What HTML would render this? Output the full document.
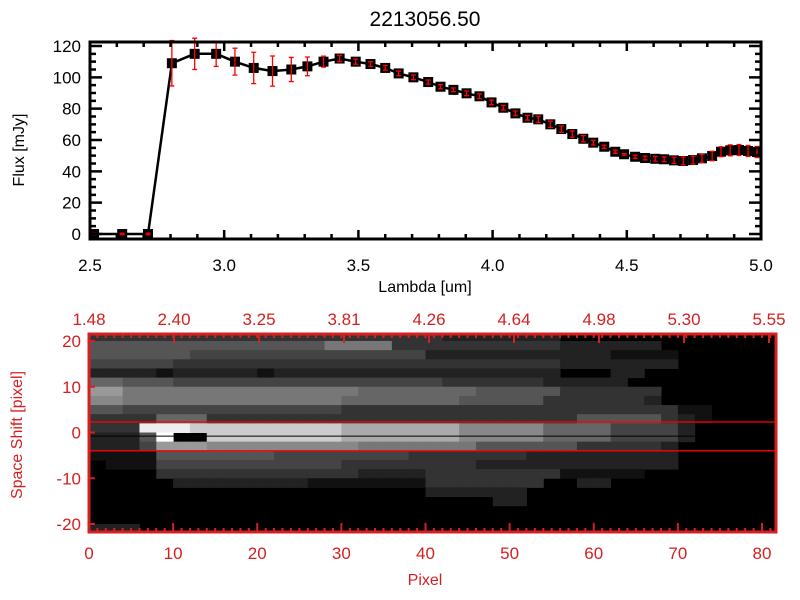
<!DOCTYPE html>
<html><head><meta charset="utf-8"><style>
html,body{margin:0;padding:0;background:#fff;width:800px;height:600px;overflow:hidden}
svg{display:block;font-family:"Liberation Sans",sans-serif}
</style></head><body>
<svg id="svg" width="800" height="600" viewBox="0 0 800 600" xmlns="http://www.w3.org/2000/svg">
<rect width="800" height="600" fill="#fff"/>
<text x="425" y="26" font-size="21" text-anchor="middle" fill="#000">2213056.50</text>
<g id="top"></g>
<g id="bot"></g>
<text x="425" y="292" font-size="16" text-anchor="middle">Lambda [um]</text>
<text transform="translate(24,150) rotate(-90)" font-size="16" text-anchor="middle">Flux [mJy]</text>
<text x="425" y="585" font-size="16" fill="#d42020" text-anchor="middle">Pixel</text>
<text transform="translate(22,435) rotate(-90)" font-size="16" fill="#d42020" text-anchor="middle">Space Shift [pixel]</text>
</svg>
<script>
const lambda=[2.515,2.62,2.716,2.805,2.89,2.97,3.04,3.11,3.18,3.25,3.31,3.37,3.43,3.49,3.545,3.60,3.65,3.705,3.76,3.806,3.854,3.903,3.951,3.996,4.04,4.085,4.13,4.17,4.215,4.256,4.297,4.338,4.375,4.416,4.457,4.49,4.531,4.568,4.606,4.639,4.676,4.71,4.747,4.78,4.818,4.851,4.885,4.918,4.952,4.985];
const flux=[0,0,0,109,115,115,110,106,104,105,107,110,112,110,108.5,106,102.5,100,97,94,92,89.8,87.9,84,80.6,77,74.2,73.2,70,67,63.8,60.8,58.3,55.7,52.5,50.9,49.3,48.5,48,47.7,47,46.6,47.2,48.3,49.8,52.5,53.4,53.6,53,52.3];
const fluxErr=[0.5,0.5,0.5,14.5,10,8,8.6,10,9.6,7.7,6,3.5,2,1.6,1.5,1.5,1.5,1.5,1.3,1.3,1.2,1.5,1.5,1.5,1.5,1.5,1.5,2,2,2,2,2,1.5,1,1,0.5,1,1.2,1.5,1.5,2,2.5,2.5,2.5,3,3.2,3.5,3.5,3.5,3.5];
const xTicks=["2.5","3.0","3.5","4.0","4.5","5.0"];
const yTicks=[0,20,40,60,80,100,120];
const pixTicks=[0,10,20,30,40,50,60,70,80];
const shiftTicks=[20,10,0,-10,-20];
const topLabels=["1.48","2.40","3.25","3.81","4.26","4.64","4.98","5.30","5.55"];
const imgRows=[
"33333333333333333333322222220000000000000",
"55555555555555777733333333332222220000000",
"55555544444444444444222222222221111000000",
"44444333333333333333333333332222222000000",
"22221222221222222222222222220002200000000",
"66555444444444444444433333322222000000000",
"99777777777777776666666555553333330000000",
"88777777777777766666665555533333320000000",
"55444444444444433333333333333333333110000",
"33336663333333333333333333333555553210000",
"333eeecccccccccaaaaaaa8888866664444200000",
"2225f00ccccccccaaaaaaa8888866664444200000",
"22249998888888887777777555555333332000000",
"11115555555444444443333333222222222000000",
"01114444444444433333333222222222222000000",
"00003333333333332222333333331111100000000",
"00000222222221111111333333300220000000000",
"00000000000000000000222222000000000000000",
"00000000000000000000000022000000000000000",
"00000000000000000000000000000000000000000",
"00000000000000000000000000000000000000000",
"22200000000000000000000000000000000000000",
"00000000000000000000000000000000000000000"];
const refLines=[2.3,-4];
const centerLine=-0.8;

const NS="http://www.w3.org/2000/svg";
function mk(tag,attrs,parent){const e=document.createElementNS(NS,tag);for(const k in attrs)e.setAttribute(k,attrs[k]);parent.appendChild(e);return e;}
const topG=document.getElementById('top'),botG=document.getElementById('bot');
const X0=90,X1=761,Y0=239,Y1=42;
const xs=v=>X0+(v-2.5)/2.5*(X1-X0);
const ys=v=>234-v*(234-46)/120;
let d="";
for(let i=0;i<lambda.length;i++){d+=(i?"L":"M")+xs(lambda[i]).toFixed(1)+","+ys(flux[i]).toFixed(1);}
const ln=mk('path',{d:d,fill:"none",stroke:"#000","stroke-width":2.5},topG);


for(let i=0;i<lambda.length;i++){
  const x=xs(lambda[i]),y=ys(flux[i]);
  const m=mk('rect',{x:x-5,y:y-5,width:10,height:10,fill:"#000"},topG);
  
  
}
for(let i=0;i<lambda.length;i++){
  const x=xs(lambda[i]),y1=ys(flux[i]+fluxErr[i]),y2=ys(flux[i]-fluxErr[i]);
  const g=mk('path',{d:`M${x},${y1}V${y2}M${x-2.5},${y1}H${x+2.5}M${x-2.5},${y2}H${x+2.5}`,stroke:"#f00","stroke-width":1.3,fill:"none"},topG);
  
  
}
mk('rect',{x:X0,y:Y1,width:X1-X0,height:Y0-Y1,fill:"none",stroke:"#000","stroke-width":3},topG);
let td="";
for(let k=0;k<=25;k++){const x=xs(2.5+k*0.1),L=(k%5==0)?9:5;td+=`M${x},${Y0}v${-L}M${x},${Y1}v${L}`;}
for(let k=0;k<=24;k++){const y=ys(k*5),L=(k%4==0)?12:6;td+=`M${X0},${y}h${L}M${X1},${y}h${-L}`;}
mk('path',{d:td,stroke:"#000","stroke-width":2.5,fill:"none"},topG);
xTicks.forEach(t=>{const e=mk('text',{x:xs(parseFloat(t)),y:271,"font-size":17,"text-anchor":"middle"},topG);e.textContent=t;

});
yTicks.forEach(t=>{const e=mk('text',{x:81,y:ys(t)+6,"font-size":17,"text-anchor":"end"},topG);e.textContent=t;

});
const BX0=89,BX1=776,BY0=532,BY1=334,RED="#d42020";
const px=p=>89+p*(762-89)/80;
const sy=v=>432.5-v*4.575;
mk('rect',{x:BX0,y:BY1,width:BX1-BX0,height:BY0-BY1,fill:"#000"},botG);
const clip=mk('clipPath',{id:"cl"},mk('defs',{},botG));
mk('rect',{x:BX0,y:BY1,width:BX1-BX0,height:BY0-BY1},clip);
const ig=mk('g',{"clip-path":"url(#cl)"},botG);


imgRows.forEach((row,k)=>{
  for(let c=0;c<row.length;c++){
    const v=parseInt(row[c],16);if(!v)continue;
    const g=Math.round(v/15*255);
    const r=mk('rect',{x:px(2*c),y:sy(22-2*k),width:px(2*c+2)-px(2*c)+0.5,height:sy(20-2*k)-sy(22-2*k)+0.5,fill:`rgb(${g},${g},${g})`},ig);
    
    
  }
});
refLines.forEach(v=>{const l=mk('line',{x1:BX0,x2:BX1,y1:sy(v),y2:sy(v),stroke:"#f00","stroke-width":1.3},botG);

});
const cl=mk('line',{x1:BX0,x2:BX1,y1:sy(centerLine),y2:sy(centerLine),stroke:"#000","stroke-width":1},botG);


mk('rect',{x:BX0,y:BY1,width:BX1-BX0,height:BY0-BY1,fill:"none",stroke:RED,"stroke-width":3},botG);
let bd="";
for(let p=0;p<=81;p++){const x=px(p);bd+=`M${x},${BY0}v-4M${x},${BY1}v4`;}
pixTicks.forEach(p=>{const x=px(p);bd+=`M${x},${BY0}v-9`;});
for(let j=0;j<9;j++){const x=89+j*85;bd+=`M${x},${BY1}v9`;}
shiftTicks.forEach(v=>{bd+=`M${BX0},${sy(v)}h6`;});
mk('path',{d:bd,stroke:RED,"stroke-width":2,fill:"none"},botG);
pixTicks.forEach(p=>{const e=mk('text',{x:px(p),y:559,"font-size":17,fill:RED,"text-anchor":"middle"},botG);e.textContent=p;

});
shiftTicks.forEach(v=>{const e=mk('text',{x:81,y:sy(v)+6,"font-size":17,fill:RED,"text-anchor":"end"},botG);e.textContent=v;

});
topLabels.forEach((t,j)=>{const e=mk('text',{x:89+j*85,y:325,"font-size":17,fill:RED,"text-anchor":"middle"},botG);e.textContent=t;

});
</script>
</body></html>
